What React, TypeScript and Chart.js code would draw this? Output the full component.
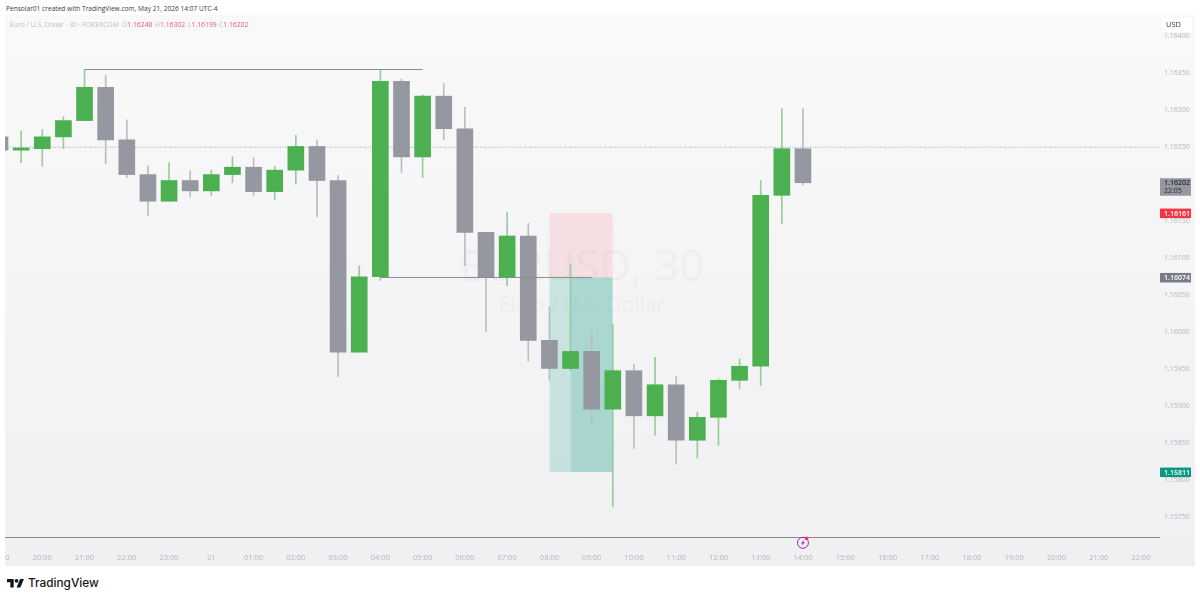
import React, { useEffect, useRef } from "react";
import { Chart, registerables } from "chart.js";

Chart.register(...registerables);

// Candle data, from 19:00 (bar -1), one bar every 30 minutes
const firstBar = -1;
const opens = [1.16264, 1.16246, 1.16248, 1.16264, 1.16286, 1.16331, 1.1626, 1.16213, 1.16177, 1.16205, 1.16191, 1.16213, 1.16223, 1.1619, 1.16219, 1.16251, 1.16205, 1.15973, 1.16075, 1.16339, 1.16237, 1.16319, 1.16275, 1.16135, 1.16074, 1.1613, 1.15989, 1.15951, 1.15974, 1.15896, 1.15948, 1.15887, 1.15929, 1.15854, 1.15885, 1.15935, 1.15954, 1.16185, 1.16248];
const highs = [1.1627, 1.16272, 1.16274, 1.16291, 1.16355, 1.16347, 1.16287, 1.16225, 1.16229, 1.16218, 1.16219, 1.16237, 1.16236, 1.16224, 1.16266, 1.1626, 1.16212, 1.1609, 1.16355, 1.16342, 1.16321, 1.16336, 1.16304, 1.16135, 1.16162, 1.16147, 1.16035, 1.16092, 1.16003, 1.16011, 1.15957, 1.15966, 1.1594, 1.15892, 1.15937, 1.15964, 1.16205, 1.16302, 1.16302];
const lows = [1.1624, 1.16229, 1.16224, 1.16248, 1.16286, 1.16228, 1.16209, 1.16158, 1.16177, 1.16183, 1.16185, 1.16202, 1.16185, 1.16179, 1.162, 1.16156, 1.1594, 1.15973, 1.1607, 1.16216, 1.16209, 1.1626, 1.1609, 1.16001, 1.16063, 1.15961, 1.15935, 1.15948, 1.15875, 1.15764, 1.15843, 1.15861, 1.15822, 1.1583, 1.15847, 1.15924, 1.15928, 1.16147, 1.16199];
const closes = [1.16246, 1.16249, 1.16264, 1.16286, 1.16331, 1.1626, 1.16213, 1.16177, 1.16205, 1.16191, 1.16213, 1.16223, 1.1619, 1.16219, 1.16251, 1.16205, 1.15973, 1.16075, 1.16339, 1.16237, 1.16319, 1.16275, 1.16135, 1.16074, 1.1613, 1.15989, 1.15951, 1.15974, 1.15896, 1.15948, 1.15887, 1.15929, 1.15854, 1.15885, 1.15935, 1.15954, 1.16185, 1.16248, 1.16202];

// Axes
const timeTickBars = [-1, 1, 3, 5, 7, 9, 11, 13, 15, 17, 19, 21, 23, 25, 27, 29, 31, 33, 35, 37, 39, 41, 43, 45, 47, 49, 51, 53];
const timeTickLabels = ["19:00", "20:00", "21:00", "22:00", "23:00", "21", "01:00", "02:00", "03:00", "04:00", "05:00", "06:00", "07:00", "08:00", "09:00", "10:00", "11:00", "12:00", "13:00", "14:00", "15:00", "16:00", "17:00", "18:00", "19:00", "20:00", "21:00", "22:00"];
const priceTicks = [1.164, 1.1635, 1.163, 1.1625, 1.162, 1.1615, 1.161, 1.1605, 1.16, 1.1595, 1.159, 1.1585, 1.158, 1.1575];

// Drawings
const dottedPrice = 1.1625;
const highLine = { from: 3, to: 19, price: 1.16355 };
const entryLine = { from: 17, to: 27, price: 1.16074 };
const stopPrice = 1.16161;
const entryPrice = 1.16074;
const targetPrice = 1.15811;
const positionBars = [25, 28];
const innerPositionBars = [26, 28];
const eventBar = 37;

// Text
const headerText = "Pensolar01 created with TradingView.com, May 21, 2026 14:07 UTC-4";
const legendTitle = "Euro / U.S. Dollar · 30 · FOREXCOM";
const legendKeys = ["O", "H", "L", "C"];
const legendValues = ["1.16248", "1.16302", "1.16199", "1.16202"];
const legendKeyX = [122, 155, 188, 219];
const priceBadges = [
  { price: 1.16161, text: "1.16161", bg: "#f23645", fg: "#ffffff" },
  { price: 1.16074, text: "1.16074", bg: "#787b86", fg: "#ffffff" },
  { price: 1.15811, text: "1.15811", bg: "#089981", fg: "#ffffff" },
];
const currentBadge = { price: 1.16202, text: "1.16202", countdown: "22:05" };
const watermarkMain = "EURUSD, 30";
const watermarkSub = "Euro / U.S. Dollar";

const GREEN = "#4caf50";
const GREY = "#9598a1";
const GREEN_WICK = "#98cc9b";
const GREY_WICK = "#bcbdc3";
const AXIS_FONT = "Open Sans";

const overlayPlugin = {
  id: "overlay",
  beforeDatasetsDraw(chart: any) {
    const { ctx, chartArea } = chart;
    const cx = 577;
    ctx.save();
    ctx.beginPath();
    ctx.rect(chartArea.left, chartArea.top, chartArea.right - chartArea.left, chartArea.bottom - chartArea.top);
    ctx.clip();
    ctx.fillStyle = "rgba(120,123,134,0.055)";
    ctx.textAlign = "center";
    ctx.textBaseline = "middle";
    ctx.font = `44px ${AXIS_FONT}`;
    ctx.fillText(watermarkMain, cx, 253);
    ctx.font = `21px ${AXIS_FONT}`;
    ctx.fillText(watermarkSub, cx, 291);
    ctx.restore();
  },
  afterDraw(chart: any) {
    const { ctx, scales } = chart;
    const y = scales.y;
    const x = scales.x;
    const badgeLeft = 1155;
    const badgeW = 31;
    ctx.save();
    ctx.textBaseline = "middle";
    ctx.textAlign = "left";
    // USD box
    ctx.fillStyle = "#ffffff";
    ctx.fillRect(1157, 3, 30, 14);
    ctx.fillStyle = "#3a3b40";
    ctx.font = `500 7.5px ${AXIS_FONT}`;
    ctx.fillText("USD", 1161, 10);
    // current price with countdown
    const cy = y.getPixelForValue(currentBadge.price);
    ctx.fillStyle = GREY;
    ctx.fillRect(badgeLeft, cy - 4.5, badgeW, 17.5);
    ctx.fillStyle = "#2a2b30";
    ctx.font = `600 7px ${AXIS_FONT}`;
    ctx.fillText(currentBadge.text, badgeLeft + 4, cy + 0.5);
    ctx.font = `7px ${AXIS_FONT}`;
    ctx.fillText(currentBadge.countdown, badgeLeft + 4, cy + 8.5);
    // other price labels
    for (const b of priceBadges) {
      const py = y.getPixelForValue(b.price);
      ctx.fillStyle = b.bg;
      ctx.fillRect(badgeLeft, py - 4.5, badgeW, 9.5);
      ctx.fillStyle = b.fg;
      ctx.font = `600 7px ${AXIS_FONT}`;
      ctx.fillText(b.text, badgeLeft + 4, py + 0.5);
    }
    // event marker on the time axis
    const ex = x.getPixelForValue(eventBar);
    const ey = chart.chartArea.bottom + 5.8;
    ctx.strokeStyle = "#9c27b0";
    ctx.lineWidth = 1;
    ctx.beginPath();
    ctx.arc(ex, ey, 5.5, 0, Math.PI * 2);
    ctx.stroke();
    ctx.fillStyle = "#9c27b0";
    ctx.beginPath();
    ctx.moveTo(ex + 1.4, ey - 3.2);
    ctx.lineTo(ex - 2, ey + 0.6);
    ctx.lineTo(ex - 0.2, ey + 0.6);
    ctx.lineTo(ex - 1.4, ey + 3.2);
    ctx.lineTo(ex + 2, ey - 0.6);
    ctx.lineTo(ex + 0.2, ey - 0.6);
    ctx.closePath();
    ctx.fill();
    ctx.fillStyle = "#f23645";
    ctx.beginPath();
    ctx.arc(ex + 3.6, ey - 4.4, 1.8, 0, Math.PI * 2);
    ctx.fill();
    ctx.restore();
  },
};

export default function App() {
  const ref = useRef<HTMLCanvasElement | null>(null);

  useEffect(() => {
    if (!ref.current) return;
    const bars = opens.map((_, i) => i + firstBar);
    const up = opens.map((o, i) => closes[i] >= o);
    const flat = (y: number, a: number, b: number) => [
      { x: a, y },
      { x: b, y },
    ];
    const lineBase = { type: "line" as const, pointRadius: 0, borderWidth: 0, tension: 0 };

    const chart = new Chart(ref.current, {
      type: "bar",
      data: {
        datasets: [
          {
            ...lineBase,
            order: 12,
            data: flat(stopPrice, positionBars[0], positionBars[1]),
            fill: { value: entryPrice },
            backgroundColor: "rgba(242,54,69,0.115)",
            borderColor: "rgba(0,0,0,0)",
          },
          {
            ...lineBase,
            order: 11,
            data: flat(targetPrice, positionBars[0], positionBars[1]),
            fill: { value: entryPrice },
            backgroundColor: "rgba(8,153,129,0.185)",
            borderColor: "rgba(0,0,0,0)",
          },
          {
            ...lineBase,
            order: 10,
            data: flat(targetPrice, innerPositionBars[0], innerPositionBars[1]),
            fill: { value: entryPrice },
            backgroundColor: "rgba(8,153,129,0.15)",
            borderColor: "rgba(0,0,0,0)",
          },
          {
            ...lineBase,
            order: 9,
            data: flat(dottedPrice, -1, 54),
            borderWidth: 1,
            borderColor: "#a4a6ad",
            borderDash: [1, 1.5],
            fill: false,
          },
          {
            type: "bar",
            order: 5,
            data: bars.map((x, i) => ({ x, y: [lows[i], highs[i]] })),
            barThickness: 1,
            backgroundColor: up.map((u) => (u ? GREEN_WICK : GREY_WICK)),
            borderWidth: 0,
          },
          {
            type: "bar",
            order: 4,
            data: bars.map((x, i) => ({ x, y: [opens[i], closes[i]] })),
            barThickness: 16,
            backgroundColor: up.map((u) => (u ? GREEN : GREY)),
            borderWidth: 0,
          },
          {
            ...lineBase,
            order: 1,
            data: flat(highLine.price, highLine.from, highLine.to),
            borderWidth: 1,
            borderColor: "#8a8c93",
            fill: false,
          },
          {
            ...lineBase,
            order: 1,
            data: flat(entryLine.price, entryLine.from, entryLine.to),
            borderWidth: 1,
            borderColor: "#8a8c93",
            fill: false,
          },
        ] as any,
      },
      options: {
        responsive: false,
        animation: false,
        events: [],
        layout: { padding: 0 },
        plugins: { legend: { display: false }, tooltip: { enabled: false } },
        datasets: { bar: { grouped: false } },
        scales: {
          x: {
            type: "linear",
            offset: false,
            min: -0.7643,
            max: 53.85,
            grid: { display: false, drawTicks: false },
            border: { display: true, color: "#8b8c91", width: 1 },
            afterBuildTicks: (s: any) => {
              s.ticks = timeTickBars.map((value) => ({ value }));
            },
            afterFit: (s: any) => {
              s.height = 29;
              s.paddingLeft = 0;
              s.paddingRight = 0;
            },
            ticks: {
              autoSkip: false,
              maxRotation: 0,
              minRotation: 0,
              padding: 16,
              color: "#b4b5bd",
              font: { family: AXIS_FONT, size: 7.5 },
              callback: (v: any) => timeTickLabels[timeTickBars.indexOf(v)],
            },
          },
          y: {
            type: "linear",
            position: "right",
            min: 1.1572325,
            max: 1.1642868,
            grid: { display: false, drawTicks: false },
            border: { display: false },
            afterBuildTicks: (s: any) => {
              s.ticks = priceTicks.map((value) => ({ value }));
            },
            afterFit: (s: any) => {
              s.width = 36;
              s.paddingTop = 0;
              s.paddingBottom = 0;
            },
            ticks: {
              autoSkip: false,
              padding: 5,
              color: "#b4b5bd",
              font: { family: AXIS_FONT, size: 7 },
              callback: (v: any) => Number(v).toFixed(5),
            },
          },
        },
      } as any,
      plugins: [overlayPlugin as any],
    });
    return () => chart.destroy();
  }, []);

  const textFont = `"${AXIS_FONT}", sans-serif`;
  return (
    <div style={{ position: "fixed", left: 0, top: 0, width: 1200, height: 600, background: "#fff", overflow: "hidden", fontFamily: textFont }}>
      <div style={{ position: "absolute", left: 6, top: 3, fontSize: 6.6, lineHeight: "11px", color: "#3a3b40", whiteSpace: "nowrap" }}>{headerText}</div>
      <canvas
        ref={ref}
        width={1190}
        height={551}
        style={{ position: "absolute", left: 5, top: 15, width: 1190, height: 551, background: "linear-gradient(#f9f9fa, #f0f0f2)" }}
      />
      <div style={{ position: "absolute", left: 10, top: 18.5, fontSize: 6.8, lineHeight: "11px", color: "#bcbdc4", whiteSpace: "nowrap" }}>{legendTitle}</div>
      {legendKeys.map((k, i) => (
        <div key={k} style={{ position: "absolute", left: legendKeyX[i], top: 18.5, fontSize: 6.8, lineHeight: "11px", whiteSpace: "nowrap", color: "#bcbdc4" }}>
          {k}
          <span style={{ color: "#ef5a70" }}>{legendValues[i]}</span>
        </div>
      ))}
      <svg style={{ position: "absolute", left: 7, top: 576.5 }} width={17.2} height={13.4} viewBox="0 0 36 28">
        <path d="M14 22H7V11H0V4h14v18zM28 22h-8l7.5-18h8L28 22z" fill="#131722" />
        <circle cx="20" cy="8" r="4" fill="#131722" />
      </svg>
      <div style={{ position: "absolute", left: 28, top: 574, fontSize: 11.8, lineHeight: "18px", fontWeight: 500, fontFamily: "Inter, sans-serif", color: "#131722", whiteSpace: "nowrap" }}>TradingView</div>
    </div>
  );
}
